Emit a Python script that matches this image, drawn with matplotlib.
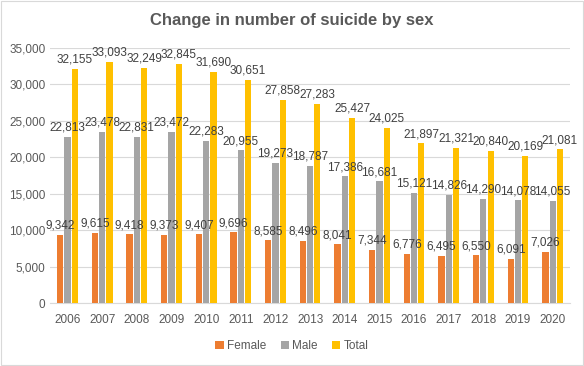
import matplotlib
matplotlib.use("Agg")
import matplotlib.pyplot as plt
import numpy as np
from matplotlib.patches import Rectangle

years = ["2006", "2007", "2008", "2009", "2010", "2011", "2012", "2013",
         "2014", "2015", "2016", "2017", "2018", "2019", "2020"]
female = [9342, 9615, 9418, 9373, 9407, 9696, 8585, 8496, 8041, 7344, 6776, 6495, 6550, 6091, 7026]
male = [22813, 23478, 22831, 23472, 22283, 20955, 19273, 18787, 17386, 16681, 15121, 14826, 14290, 14078, 14055]
total = [32155, 33093, 32249, 32845, 31690, 30651, 27858, 27283, 25427, 24025, 21897, 21321, 20840, 20169, 21081]

series = [("Female", female, "#ED7D31"), ("Male", male, "#A5A5A5"), ("Total", total, "#FFC000")]

plt.rcParams['font.family'] = ['Liberation Sans', 'DejaVu Sans']
txt = "#595959"

fig = plt.figure(figsize=(5.84, 3.66), dpi=100)
ax = fig.add_axes([0.086, 0.172, 0.89, 0.697])

x = np.arange(len(years))
w = 0.18
off = 0.21
for i, (name, vals, col) in enumerate(series):
    pos = x + (i - 1) * off
    ax.bar(pos, vals, width=w, color=col, label=name, zorder=3)
    for px, v in zip(pos, vals):
        ax.text(px, v + 450, f"{v:,}", ha="center", va="bottom", fontsize=8.5, color="#404040", zorder=4)

ax.set_xlim(-0.5, len(years) - 0.5)
ax.set_ylim(0, 35000)
ax.set_yticks(np.arange(0, 35001, 5000))
ax.set_yticklabels([f"{v:,}" for v in range(0, 35001, 5000)])
ax.set_xticks(x)
ax.set_xticklabels(years)
ax.tick_params(axis="both", length=0, labelsize=8.5, colors=txt)
ax.tick_params(axis="x", pad=8)
ax.grid(axis="y", color="#D9D9D9", linewidth=0.8, zorder=0)
for s in ["top", "right", "left"]:
    ax.spines[s].set_visible(False)
ax.spines["bottom"].set_color("#D9D9D9")

fig.text(0.5, 0.945, "Change in number of suicide by sex", ha="center", va="center",
         fontsize=12, fontweight="bold", color=txt)

leg = fig.legend(loc="center", bbox_to_anchor=(0.5, 0.055), ncol=3, frameon=False,
                 fontsize=8.5, handlelength=0.7, handleheight=0.7, handletextpad=0.3,
                 columnspacing=1.2, labelcolor=txt)

fig.patches.append(Rectangle((0.001, 0.002), 0.997, 0.995, transform=fig.transFigure,
                             fill=False, edgecolor="#D9D9D9", linewidth=0.8))

fig.savefig("out.png", dpi=100)
